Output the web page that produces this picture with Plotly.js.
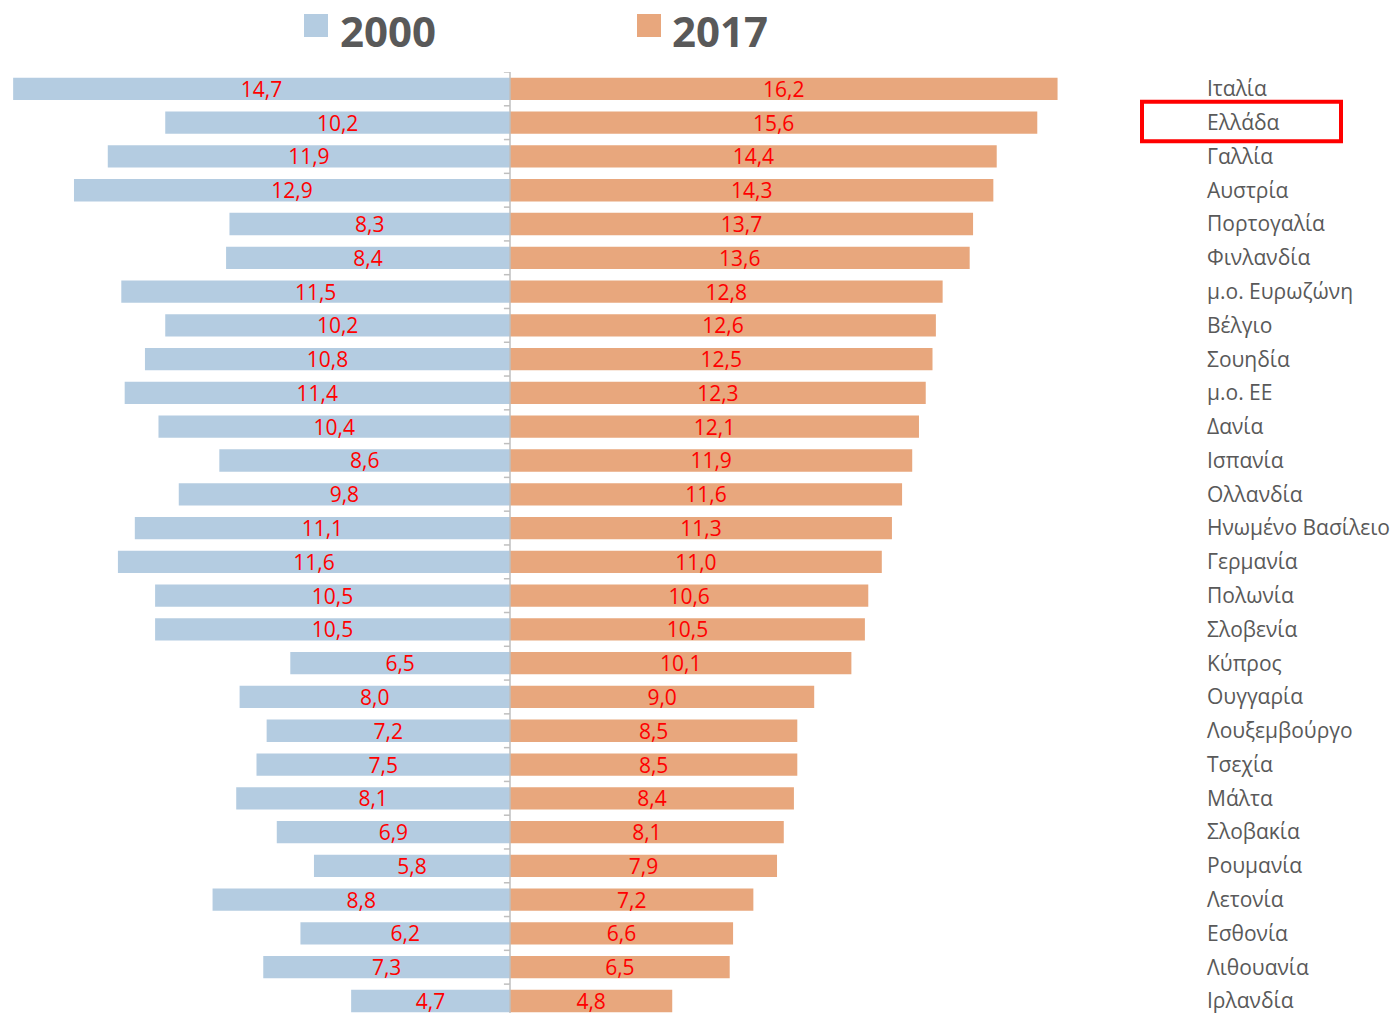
<!DOCTYPE html>
<html>
<head>
<meta charset="utf-8">
<script src="https://cdn.plot.ly/plotly-3.0.1.min.js"></script>
<style>html,body{margin:0;padding:0;background:#fff;}#chart{width:1393px;height:1014px;}</style>
</head>
<body>
<div id="chart"></div>
<script>
const countries = ["Ιταλία","Ελλάδα","Γαλλία","Αυστρία","Πορτογαλία","Φινλανδία","μ.ο. Ευρωζώνη","Βέλγιο","Σουηδία","μ.ο. ΕΕ","Δανία","Ισπανία","Ολλανδία","Ηνωμένο Βασίλειο","Γερμανία","Πολωνία","Σλοβενία","Κύπρος","Ουγγαρία","Λουξεμβούργο","Τσεχία","Μάλτα","Σλοβακία","Ρουμανία","Λετονία","Εσθονία","Λιθουανία","Ιρλανδία"];
const values2000 = [14.7,10.2,11.9,12.9,8.3,8.4,11.5,10.2,10.8,11.4,10.4,8.6,9.8,11.1,11.6,10.5,10.5,6.5,8.0,7.2,7.5,8.1,6.9,5.8,8.8,6.2,7.3,4.7];
const values2017 = [16.2,15.6,14.4,14.3,13.7,13.6,12.8,12.6,12.5,12.3,12.1,11.9,11.6,11.3,11.0,10.6,10.5,10.1,9.0,8.5,8.5,8.4,8.1,7.9,7.2,6.6,6.5,4.8];
const seriesNames = ["2000","2017"];
const highlighted = "Ελλάδα";

const fmt = v => v.toFixed(1).replace('.', ',');
const C2000 = '#b4cce1', C2017 = '#e8a77d';
const txtFont = {family: 'Open Sans, sans-serif', size: 21, color: '#ff0000'};

const traces = [
  {type:'bar', orientation:'h', y: countries, x: values2000.map(v => -v),
   text: values2000.map(fmt), textposition:'inside', insidetextanchor:'middle', textangle:0,
   constraintext:'none', textfont: txtFont, marker:{color:C2000}, width:0.66,
   hoverinfo:'skip', name: seriesNames[0]},
  {type:'bar', orientation:'h', y: countries, x: values2017,
   text: values2017.map(fmt), textposition:'inside', insidetextanchor:'middle', textangle:0,
   constraintext:'none', textfont: txtFont, marker:{color:C2017}, width:0.66,
   hoverinfo:'skip', name: seriesNames[1]}
];

// plot area in pixels: x 10..1200, y 72..1013
const L = 10, R = 1200, T = 72, B = 1013, W = 1393, H = 1014;
const ppu = 33.8, cx = 510;
const px = p => (p - L) / (R - L);
const py = p => (B - p) / (B - T);

const shapes = [
  {type:'line', xref:'x', yref:'paper', x0:0, x1:0, y0:0, y1:1, line:{color:'#bfbfbf', width:1.5}, layer:'above'},
  {type:'rect', xref:'paper', yref:'paper', x0:px(304), x1:px(328), y0:py(37), y1:py(14), fillcolor:C2000, line:{width:0}},
  {type:'rect', xref:'paper', yref:'paper', x0:px(637), x1:px(661), y0:py(37), y1:py(14), fillcolor:C2017, line:{width:0}},
  {type:'rect', xref:'paper', yref:'y', x0:px(1142), x1:px(1341), y0:countries.indexOf(highlighted)-0.62, y1:countries.indexOf(highlighted)+0.55, line:{color:'#ff0000', width:4}}
];
for (let i = -1; i < countries.length; i++) {
  shapes.push({type:'line', xref:'x', yref:'y', x0:-0.18, x1:0, y0:i+0.5, y1:i+0.5, line:{color:'#bfbfbf', width:1.5}, layer:'above'});
}

const annotations = [
  {xref:'paper', yref:'paper', x:px(338), y:py(30), xanchor:'left', yanchor:'middle', text:'<b>'+seriesNames[0]+'</b>', showarrow:false, font:{family:'Open Sans, sans-serif', size:42, color:'#595959'}},
  {xref:'paper', yref:'paper', x:px(670), y:py(30), xanchor:'left', yanchor:'middle', text:'<b>'+seriesNames[1]+'</b>', showarrow:false, font:{family:'Open Sans, sans-serif', size:42, color:'#595959'}}
];

const layout = {
  width: W, height: H,
  margin: {l: L, r: W - R, t: T, b: H - B, pad: 0},
  paper_bgcolor:'#ffffff', plot_bgcolor:'#ffffff',
  barmode:'overlay', showlegend:false,
  xaxis: {range:[-(cx - L)/ppu, (R - cx)/ppu], showgrid:false, zeroline:false, showticklabels:false, ticks:'', fixedrange:true},
  yaxis: {type:'category', range:[countries.length - 1 + (B - 1001)/ppu, -0.5], side:'right', showgrid:false, zeroline:false,
          ticks:'', ticklen:0, tickfont:{family:'Open Sans, sans-serif', size:21, color:'#595959'}, ticklabelstandoff:6, automargin:false},
  shapes: shapes,
  annotations: annotations,
  font: {family:'Open Sans, sans-serif'}
};

Plotly.newPlot('chart', traces, layout, {displayModeBar:false, staticPlot:true});
</script>
</body>
</html>
